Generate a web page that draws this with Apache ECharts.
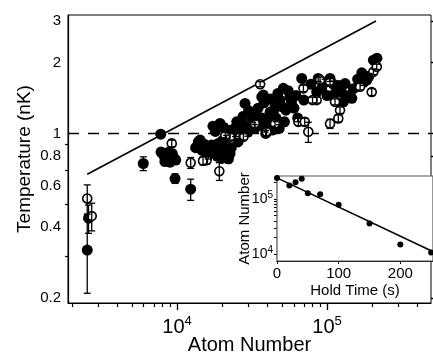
<!DOCTYPE html>
<html>
<head>
<meta charset="utf-8">
<script src="https://cdn.jsdelivr.net/npm/echarts@6/dist/echarts.min.js"></script>
<style>
html,body{margin:0;padding:0;background:#fff;}
#chart{width:433px;height:352px;}
</style>
</head>
<body>
<div id="chart"></div>
<script>
// ---- Main panel: temperature vs. atom number (log-log) ----
// Filled circles
const filledN = [2520, 2570, 5960, 7790, 9700, 12330, 7820, 8450, 9550, 8980, 9300,
  8200, 9000, 8700, 9800, 8300,
  13870, 14600, 16150, 17000, 18800, 20350, 19800, 22560, 21400, 19340, 14240, 17360, 16000,
  13300, 15200, 15500, 17500, 18500, 21000, 23000, 20000, 22000, 18000, 20500,
  28400, 27000, 30700, 29700, 33120, 36700, 34700, 36800, 38600, 41700, 40400, 45000, 45700,
  43000, 48600, 51100, 53200, 56600, 60200, 67800, 63700, 70000,
  25000, 27500, 30000, 33000, 35500, 38000, 42000, 44000, 47000, 50000, 55000, 62000, 39000,
  87300, 104700, 85300, 113000, 131800, 146300, 128400, 170400, 184000, 203600, 215000, 97000,
  160000, 24500, 25500, 32000, 52000, 48000, 58000, 37600, 31000, 26000, 23500, 140000, 120000,
  92000, 100000, 110000, 125000, 150000, 78000, 190000, 175000];
const filledT = [0.319, 0.436, 0.745, 0.993, 0.643, 0.579, 0.833, 0.785, 0.785, 0.755, 0.82,
  0.80, 0.79, 0.83, 0.77, 0.76,
  0.92, 0.849, 0.808, 0.892, 0.907, 0.863, 0.783, 0.822, 0.952, 1.103, 0.937, 1.074, 0.86,
  0.87, 0.90, 0.83, 0.84, 0.80, 0.80, 0.87, 0.93, 0.78, 1.02, 1.06,
  1.342, 1.103, 1.085, 1.013, 1.196, 1.43, 1.28, 1.162, 1.053, 1.232, 1.118, 1.307, 1.162,
  1.033, 1.386, 1.555, 1.256, 1.428, 1.28, 1.714, 1.162, 1.386,
  1.12, 1.18, 1.25, 1.05, 1.10, 1.35, 1.40, 1.25, 1.48, 1.30, 1.52, 1.45, 1.00,
  1.714, 1.714, 1.50, 1.48, 1.63, 1.41, 1.363, 1.81, 1.686, 2.05, 2.09, 1.65,
  1.70, 1.00, 0.92, 1.15, 1.12, 1.05, 1.35, 1.456, 1.22, 1.05, 1.04, 1.45, 1.60,
  1.55, 1.45, 1.62, 1.50, 1.55, 1.62, 1.75, 1.65];
const filledErr = [0.11, 0.06, 0.05, 0.03, 0.03, 0.06, 0.03, 0.03, 0.03, 0.03, 0.03,
  0.03, 0.03, 0.03, 0.03, 0.03,
  0.03, 0.03, 0.03, 0.03, 0.03, 0.03, 0.03, 0.03, 0.03, 0.03, 0.03, 0.03, 0.03,
  0.03, 0.03, 0.03, 0.03, 0.03, 0.03, 0.03, 0.03, 0.03, 0.03, 0.03,
  0.04, 0.04, 0.04, 0.04, 0.04, 0.04, 0.04, 0.04, 0.04, 0.04, 0.04, 0.04, 0.04,
  0.04, 0.04, 0.05, 0.04, 0.05, 0.04, 0.05, 0.04, 0.04,
  0.04, 0.04, 0.04, 0.04, 0.04, 0.04, 0.04, 0.04, 0.04, 0.04, 0.05, 0.04, 0.03,
  0.05, 0.05, 0.05, 0.05, 0.05, 0.05, 0.05, 0.05, 0.05, 0.06, 0.06, 0.05,
  0.05, 0.03, 0.03, 0.04, 0.04, 0.04, 0.04, 0.04, 0.04, 0.03, 0.03, 0.05, 0.05,
  0.05, 0.05, 0.05, 0.05, 0.05, 0.05, 0.05, 0.05];

// Open circles
const openN = [2520, 2700, 9220, 12330, 15770, 14900, 19140, 22560, 26300, 27700, 35800,
  64400, 71000, 69600, 75000, 39500, 45000, 89800, 104700, 85300, 80000, 113000, 122000,
  118800, 104700, 166000, 198500, 203600, 214500, 33000, 21000];
const openT = [0.529, 0.445, 0.907, 0.75, 0.77, 0.765, 0.691, 0.967, 0.967, 0.967, 1.62,
  1.12, 1.12, 1.555, 1.016, 1.016, 1.10, 1.686, 1.66, 1.386, 1.386, 1.363, 1.256,
  1.158, 1.10, 1.58, 1.50, 1.83, 1.92, 1.10, 0.98];
const openErr = [0.075, 0.06, 0.03, 0.04, 0.03, 0.03, 0.06, 0.03, 0.03, 0.03, 0.04,
  0.04, 0.04, 0.05, 0.10, 0.04, 0.04, 0.05, 0.05, 0.04, 0.04, 0.04, 0.04,
  0.04, 0.05, 0.05, 0.05, 0.05, 0.05, 0.04, 0.03];

// Reference line T ~ N^(1/3) and the T = 1 nK level
const slopeLineN = [2520, 212000];
const slopeLineT = [0.671, 3.01];
const levelT = 1;

// Axis ranges and ticks
const mainXRange = [1876, 493000];
const mainYRange = [0.19, 3.19];
const mainXLabels = [1e4, 1e5];
const mainXMinor = [2000, 3000, 4000, 5000, 6000, 7000, 8000, 9000,
  20000, 30000, 40000, 50000, 60000, 70000, 80000, 90000, 200000, 300000, 400000];
const mainYLabels = [0.2, 0.4, 0.6, 0.8, 1, 2, 3];
const mainYMinor = [0.3, 0.5, 0.7, 0.9];

// ---- Inset: atom number vs. hold time ----
const holdTime = [0, 20, 30, 40, 50, 70, 100, 150, 200, 250];
const holdAtoms = [240000, 175000, 201000, 231000, 127000, 122000, 78000, 36000, 15000, 10700];
const fitTime = [0, 250];
const fitAtoms = [240000, 11500];
const insetXRange = [0, 253];
const insetYRange = [7500, 260000];
const insetXLabels = [0, 100, 200];
const insetYLabels = [1e4, 1e5];
const insetYMinor = [2e4, 3e4, 4e4, 5e4, 6e4, 7e4, 8e4, 9e4, 2e5];

const FONT = 'Liberation Sans, Arial, Helvetica, sans-serif';
const BLACK = '#000';

function sup(base, exp) { return '{b|' + base + '}{s|' + exp + '}'; }

function errorBars(N, T, E, xi, yi, cap) {
  return {
    type: 'custom',
    xAxisIndex: xi, yAxisIndex: yi,
    z: 6,
    silent: true,
    data: N.map((n, i) => [n, T[i] - E[i], T[i] + E[i]]),
    encode: { x: 0, y: [1, 2] },
    renderItem: function (params, api) {
      const lo = api.coord([api.value(0), api.value(1)]);
      const hi = api.coord([api.value(0), api.value(2)]);
      const st = { stroke: BLACK, lineWidth: 1.3 };
      return {
        type: 'group',
        children: [
          { type: 'line', shape: { x1: lo[0], y1: lo[1], x2: hi[0], y2: hi[1] }, style: st },
          { type: 'line', shape: { x1: lo[0] - cap, y1: lo[1], x2: lo[0] + cap, y2: lo[1] }, style: st },
          { type: 'line', shape: { x1: hi[0] - cap, y1: hi[1], x2: hi[0] + cap, y2: hi[1] }, style: st }
        ]
      };
    }
  };
}

const chart = echarts.init(document.getElementById('chart'), null, { renderer: 'canvas' });

const option = {
  animation: false,
  backgroundColor: '#fff',
  textStyle: { fontFamily: FONT, color: BLACK },
  grid: [
    { left: 68, top: 15, width: 363, height: 288, outerBoundsMode: 'none', containLabel: false,
      show: true, borderColor: BLACK, borderWidth: 1, backgroundColor: 'transparent' },
    { left: 277, top: 176, width: 156, height: 85, outerBoundsMode: 'none', containLabel: false,
      show: true, borderColor: '#555', borderWidth: 1.2, backgroundColor: '#fff', z: 10 }
  ],
  xAxis: [
    {
      type: 'log', gridIndex: 0, min: mainXRange[0], max: mainXRange[1], position: 'bottom',
      axisLine: { show: true, lineStyle: { color: BLACK, width: 1.2 } },
      axisTick: { show: true, customValues: mainXMinor, length: 4, lineStyle: { color: BLACK, width: 1.2 } },
      axisLabel: {
        show: true, customValues: mainXLabels, margin: 12,
        formatter: v => sup('10', Math.round(Math.log10(v))),
        rich: {
          b: { fontSize: 20, fontFamily: FONT, color: BLACK, lineHeight: 24 },
          s: { fontSize: 13, fontFamily: FONT, color: BLACK, verticalAlign: 'top', lineHeight: 14 }
        }
      },
      splitLine: { show: false }, minorTick: { show: false },
      name: 'Atom Number', nameLocation: 'middle', nameGap: 32, nameMoveOverlap: false,
      nameTextStyle: { fontSize: 20, fontFamily: FONT, color: BLACK }
    },
    {
      type: 'log', gridIndex: 0, min: mainXRange[0], max: mainXRange[1], position: 'bottom',
      axisLine: { show: false },
      axisTick: { show: true, customValues: mainXLabels, length: 7, lineStyle: { color: BLACK, width: 1.3 } },
      axisLabel: { show: false }, splitLine: { show: false }
    },
    {
      type: 'value', gridIndex: 1, min: insetXRange[0], max: insetXRange[1], interval: 100,
      axisLine: { show: true, lineStyle: { color: BLACK, width: 1.2 } },
      axisTick: { show: true, customValues: insetXLabels, length: 3, lineStyle: { color: BLACK } },
      axisLabel: { customValues: insetXLabels, fontSize: 15, fontFamily: FONT, color: BLACK, margin: 5 },
      splitLine: { show: false },
      name: 'Hold Time (s)', nameLocation: 'middle', nameGap: 22, nameMoveOverlap: false,
      nameTextStyle: { fontSize: 15, fontFamily: FONT, color: BLACK }
    }
  ],
  yAxis: [
    {
      type: 'log', gridIndex: 0, min: mainYRange[0], max: mainYRange[1],
      axisLine: { show: true, lineStyle: { color: BLACK, width: 1.2 } },
      axisTick: { show: true, customValues: mainYMinor, length: 3, lineStyle: { color: BLACK, width: 1.2 } },
      axisLabel: { show: true, customValues: mainYLabels, margin: 7, fontSize: 15, fontFamily: FONT, color: BLACK },
      splitLine: { show: false },
      name: 'Temperature (nK)', nameLocation: 'middle', nameGap: 34, nameMoveOverlap: false,
      nameTextStyle: { fontSize: 19, fontFamily: FONT, color: BLACK }
    },
    {
      type: 'log', gridIndex: 0, min: mainYRange[0], max: mainYRange[1],
      axisLine: { show: false },
      axisTick: { show: true, customValues: mainYLabels, length: 5, lineStyle: { color: BLACK, width: 1.3 } },
      axisLabel: { show: false }, splitLine: { show: false }
    },
    {
      type: 'log', gridIndex: 1, min: insetYRange[0], max: insetYRange[1],
      axisLine: { show: true, lineStyle: { color: BLACK, width: 1.2 } },
      axisTick: { show: true, customValues: insetYMinor.concat(insetYLabels), length: 3, lineStyle: { color: BLACK } },
      axisLabel: {
        show: true, customValues: insetYLabels, margin: 4,
        formatter: v => sup('10', Math.round(Math.log10(v))),
        rich: {
          b: { fontSize: 14, fontFamily: FONT, color: BLACK, lineHeight: 18 },
          s: { fontSize: 10, fontFamily: FONT, color: BLACK, verticalAlign: 'top', lineHeight: 11 }
        }
      },
      splitLine: { show: false },
      name: 'Atom Number', nameLocation: 'middle', nameGap: 25, nameMoveOverlap: false,
      nameTextStyle: { fontSize: 15, fontFamily: FONT, color: BLACK }
    }
  ],
  series: [
    {
      type: 'line', xAxisIndex: 0, yAxisIndex: 0, z: 2, silent: true,
      data: [[mainXRange[0], levelT], [mainXRange[1], levelT]],
      symbol: 'none', lineStyle: { color: BLACK, width: 1.5, type: [11, 9] }
    },
    {
      type: 'line', xAxisIndex: 0, yAxisIndex: 0, z: 2, silent: true,
      data: slopeLineN.map((n, i) => [n, slopeLineT[i]]),
      symbol: 'none', lineStyle: { color: BLACK, width: 1.6 }
    },
    {
      type: 'scatter', xAxisIndex: 0, yAxisIndex: 0, z: 3, silent: true,
      data: filledN.map((n, i) => [n, filledT[i]]),
      symbol: 'circle', symbolSize: 11,
      itemStyle: { color: BLACK, opacity: 1 }
    },
    {
      type: 'scatter', xAxisIndex: 0, yAxisIndex: 0, z: 4, silent: true,
      data: openN.map((n, i) => [n, openT[i]]),
      symbol: 'circle', symbolSize: 9,
      itemStyle: { color: '#fff', borderColor: BLACK, borderWidth: 1.6, opacity: 1 }
    },
    errorBars(filledN, filledT, filledErr, 0, 0, 3.5),
    errorBars(openN, openT, openErr, 0, 0, 3.5),
    {
      type: 'line', xAxisIndex: 2, yAxisIndex: 2, z: 12, silent: true,
      data: fitTime.map((t, i) => [t, fitAtoms[i]]),
      symbol: 'none', lineStyle: { color: BLACK, width: 1.5 }
    },
    {
      type: 'scatter', xAxisIndex: 2, yAxisIndex: 2, z: 12, silent: true,
      data: holdTime.map((t, i) => [t, holdAtoms[i]]),
      symbol: 'circle', symbolSize: 6, clip: false,
      itemStyle: { color: BLACK, opacity: 1 }
    }
  ]
};

chart.setOption(option);
</script>
</body>
</html>
